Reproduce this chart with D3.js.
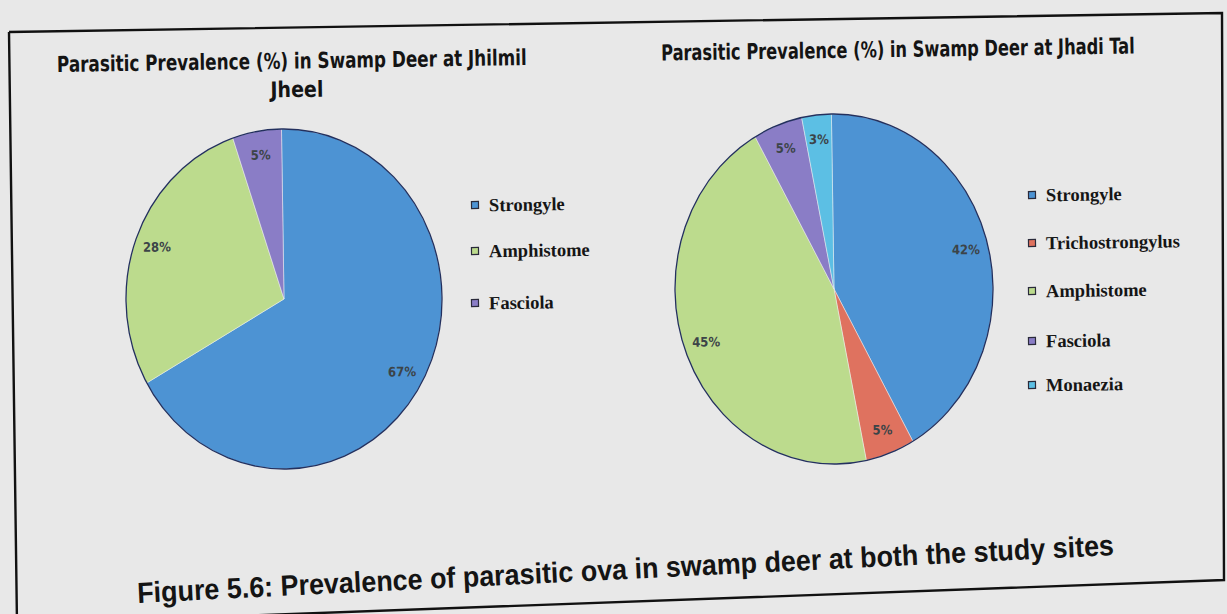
<!DOCTYPE html>
<html>
<head>
<meta charset="utf-8">
<script src="https://cdn.jsdelivr.net/npm/d3@7"></script>
<style>
  html, body { margin: 0; padding: 0; background: #e8e8e8; }
  svg { display: block; }
</style>
</head>
<body>
<svg id="chart" width="1227" height="614"></svg>
<script>
// ---- data ----
const leftTitleLines = ["Parasitic Prevalence (%) in Swamp Deer at Jhilmil", "Jheel"];
const rightTitle = "Parasitic Prevalence (%) in Swamp Deer at Jhadi Tal";
const leftCategories = ["Strongyle", "Amphistome", "Fasciola"];
const leftValues = [67, 28, 5];
const rightCategories = ["Strongyle", "Trichostrongylus", "Amphistome", "Fasciola", "Monaezia"];
const rightValues = [42, 5, 45, 5, 3];
const caption = "Figure 5.6: Prevalence of parasitic ova in swamp deer at both the study sites";

const allCategories = ["Strongyle", "Trichostrongylus", "Amphistome", "Fasciola", "Monaezia"];
const categoryColors = ["#4d93d3", "#df725f", "#bcdb8d", "#8a7dc6", "#5cbfe4"];

const color = d3.scaleOrdinal().domain(allCategories).range(categoryColors);

const svg = d3.select("#chart");
const TILT = -0.85;
const titleFont = "'Liberation Sans Narrow', 'DejaVu Sans Condensed', 'Roboto Condensed', sans-serif";
const legendFont = "'Liberation Serif', 'DejaVu Serif', serif";

svg.append("rect").attr("width", 1227).attr("height", 614).attr("fill", "#e8e8e8");

// frame (scanned, slightly skewed)
svg.append("path")
  .attr("d", d3.line()([[9, 32], [1222, 13], [1224, 580], [17, 624], [9, 32]]))
  .attr("fill", "none").attr("stroke", "#111").attr("stroke-width", 2.4);

function drawPie(cfg) {
  const { cats, vals, cx, cy, rx, ry, legendX, legendYs } = cfg;
  const pie = d3.pie().sort(null).value(d => d.v);
  const data = pie(cats.map((c, i) => ({ c, v: vals[i] })));
  const arc = d3.arc().innerRadius(0).outerRadius(rx);
  const labelArc = d3.arc().innerRadius(rx * 0.86).outerRadius(rx * 0.86);
  const k = ry / rx;

  const g = svg.append("g").attr("transform", `translate(${cx},${cy}) rotate(${TILT})`);
  const shapes = g.append("g").attr("transform", `scale(1,${k})`);
  shapes.selectAll("path.slice").data(data).join("path")
    .attr("class", "slice")
    .attr("d", arc)
    .attr("fill", d => color(d.data.c))
    .attr("stroke", "#f2f2f2").attr("stroke-opacity", 0.6)
    .attr("stroke-width", 0.8);
  shapes.append("circle").attr("r", rx).attr("fill", "none")
    .attr("stroke", "#23305e").attr("stroke-width", 1.3)
    .attr("vector-effect", "non-scaling-stroke");

  g.selectAll("text.lbl").data(data).join("text")
    .attr("class", "lbl")
    .attr("x", d => labelArc.centroid(d)[0])
    .attr("y", d => labelArc.centroid(d)[1] * k)
    .attr("dy", "0.35em")
    .attr("text-anchor", "middle")
    .attr("font-family", titleFont)
    .attr("font-weight", "bold")
    .attr("font-size", 13)
    .attr("fill", "#3c4448")
    .text(d => d.data.v + "%");

  // legend
  const lg = svg.append("g");
  const items = lg.selectAll("g").data(cats).join("g")
    .attr("transform", (d, i) => `translate(${legendX},${legendYs[i]}) rotate(${TILT})`);
  items.append("rect").attr("x", -3.5).attr("y", -3.5).attr("width", 7).attr("height", 7)
    .attr("fill", d => color(d)).attr("stroke", "#2a2a3a").attr("stroke-width", 1.2);
  items.append("text").attr("x", 14).attr("y", 6.5)
    .attr("font-family", legendFont).attr("font-weight", "bold")
    .attr("font-size", 18.5).attr("fill", "#151515")
    .text(d => d);
}

drawPie({
  cats: leftCategories, vals: leftValues,
  cx: 284, cy: 299, rx: 158, ry: 170,
  legendX: 475, legendYs: [205, 251, 303]
});
drawPie({
  cats: rightCategories, vals: rightValues,
  cx: 834, cy: 289, rx: 159, ry: 175,
  legendX: 1032, legendYs: [195, 243, 291, 341, 385]
});

// titles: condensed horizontally to the measured width via a scale transform
function tiltedText(x, y, str, opts) {
  const t = svg.append("text")
    .attr("text-anchor", "middle")
    .attr("font-family", opts.font)
    .attr("font-weight", "bold")
    .attr("font-size", opts.size)
    .attr("fill", "#141414")
    .text(str);
  const natural = t.node().getComputedTextLength() || opts.len;
  const sx = opts.len / natural;
  t.attr("transform", `translate(${x},${y}) rotate(${opts.angle}) scale(${sx},1)`);
}
tiltedText(292, 68.5, leftTitleLines[0], { angle: TILT, font: titleFont, size: 22, len: 470 });
tiltedText(297, 97, leftTitleLines[1], { angle: TILT, font: titleFont, size: 22, len: 53 });
tiltedText(898, 57, rightTitle, { angle: TILT, font: titleFont, size: 22, len: 474 });

// caption
tiltedText(626, 579, caption, { angle: -2.8, font: "'Liberation Sans Narrow', 'Liberation Sans', Arial, sans-serif", size: 29, len: 978 });
</script>
</body>
</html>
